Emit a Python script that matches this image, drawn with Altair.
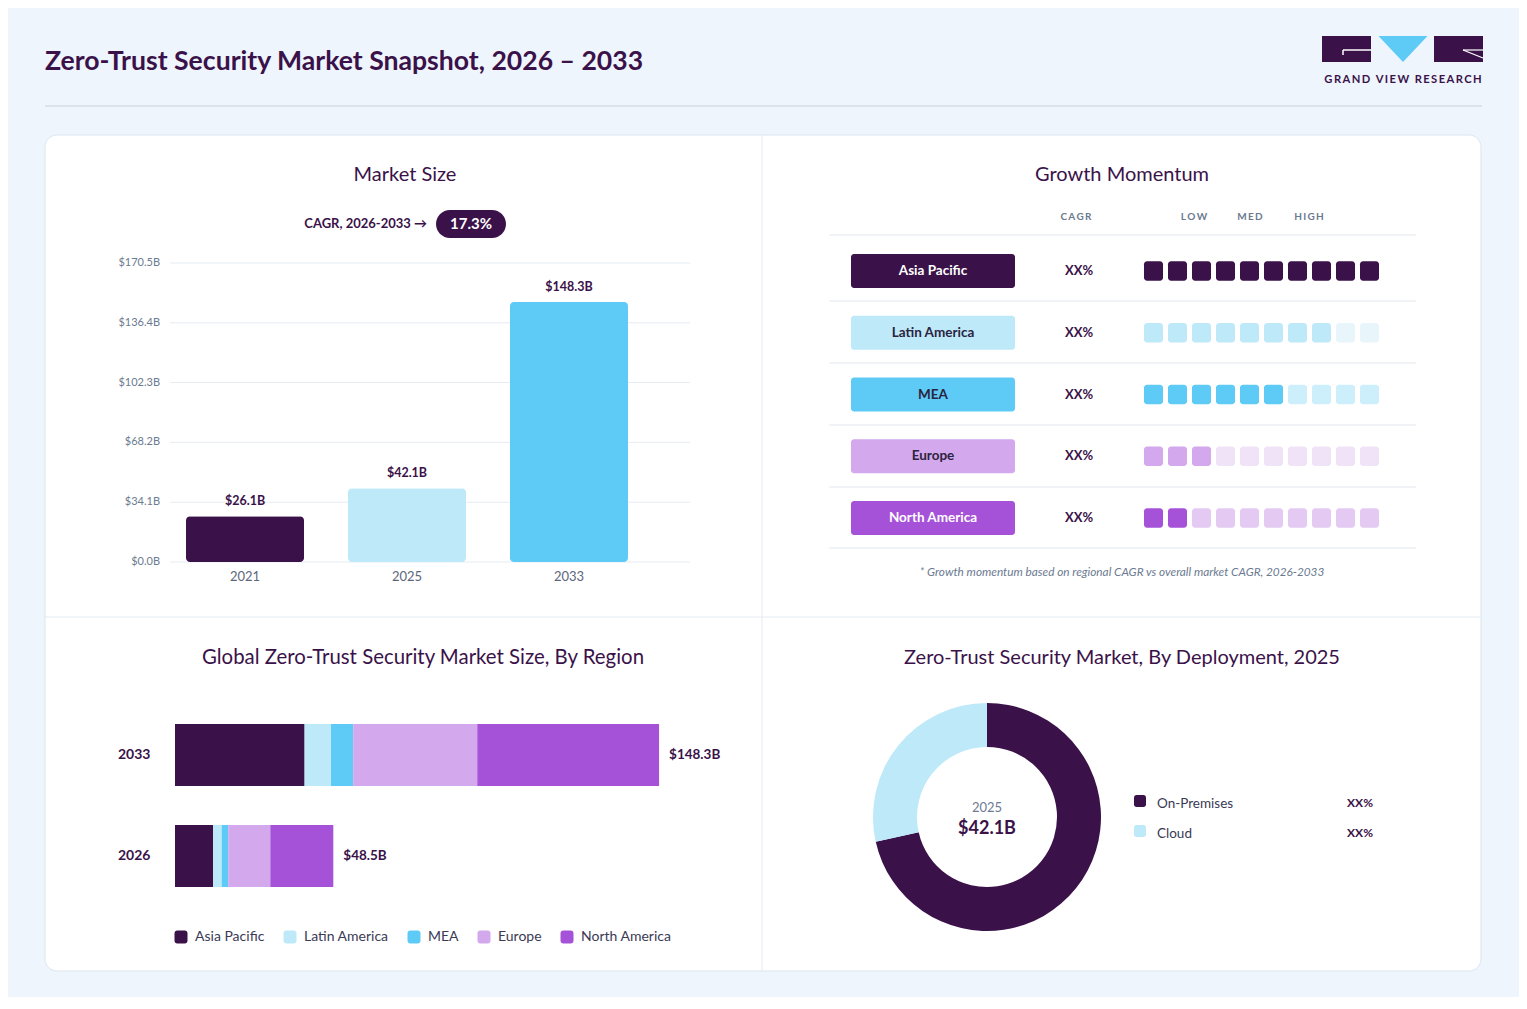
import altair as alt
import pandas as pd

# ---------------- data ----------------
title_text = "Zero-Trust Security Market Snapshot, 2026 – 2033"
brand_text = "GRAND VIEW RESEARCH"

ms_title = "Market Size"
ms_years = ["2021", "2025", "2033"]
ms_values = [26.1, 42.1, 148.3]
ms_labels = ["$26.1B", "$42.1B", "$148.3B"]
ms_colors = ["#3A1249", "#BDE9F9", "#5ECBF7"]
ms_ticks = [0.0, 34.1, 68.2, 102.3, 136.4, 170.5]
ms_tick_labels = ["$0.0B", "$34.1B", "$68.2B", "$102.3B", "$136.4B", "$170.5B"]
cagr_label = "CAGR, 2026-2033 →"
cagr_value = "17.3%"

gm_title = "Growth Momentum"
regions = ["Asia Pacific", "Latin America", "MEA", "Europe", "North America"]
region_colors = ["#3A1249", "#BDE9F9", "#5ECBF7", "#D4A8EC", "#A652D8"]
region_tints = ["#3A1249", "#E8F6FC", "#CDEFFC", "#F0E3F7", "#E4CAF2"]
region_text_colors = ["#FFFFFF", "#2B2340", "#2B2340", "#2B2340", "#FFFFFF"]
momentum_cagr = ["XX%", "XX%", "XX%", "XX%", "XX%"]
momentum_level = [10, 8, 6, 3, 2]
momentum_cells = 10
momentum_headers = ["CAGR", "LOW", "MED", "HIGH"]
momentum_note = "* Growth momentum based on regional CAGR vs overall market CAGR, 2026-2033"

st_title = "Global Zero-Trust Security Market Size, By Region"
stack_years = ["2033", "2026"]
stack_2033 = [39.7, 8.1, 6.8, 38.0, 55.7]
stack_2026 = [11.7, 2.6, 2.0, 12.9, 19.3]
stack_totals = [148.3, 48.5]
stack_total_labels = ["$148.3B", "$48.5B"]

dp_title = "Zero-Trust Security Market, By Deployment, 2025"
deploy_segments = ["On-Premises", "Cloud"]
deploy_shares = [71.5, 28.5]
deploy_share_labels = ["XX%", "XX%"]
deploy_colors = ["#3A1249", "#BDE9F9"]
deploy_year = "2025"
deploy_total = "$42.1B"

# ---------------- style ----------------
FONT = "Lato"
DARK = "#3A1249"
GREY = "#6B7A90"
BG = "#EEF5FD"
LINE = "#E4EAF1"
ROUNDSQ = "M -1 -0.55 Q -1 -1 -0.55 -1 L 0.55 -1 Q 1 -1 1 -0.55 L 1 0.55 Q 1 1 0.55 1 L -0.55 1 Q -1 1 -1 0.55 Z"

one = alt.Data(values=[{"k": 1}])


def spaced(s):
    return "\u2009".join(list(s))


def txt(s, x, y, size=13, color=DARK, weight="normal", align="center", baseline="middle", style="normal"):
    return alt.Chart(one).mark_text(
        font=FONT, fontSize=size, color=color, fontWeight=weight, align=align,
        baseline=baseline, fontStyle=style
    ).encode(x=alt.value(x), y=alt.value(y), text=alt.value(s))


def box(x, x2, y, y2, fill, radius=0, stroke=None, sw=0):
    kw = dict(fill=fill, cornerRadius=radius)
    if stroke:
        kw.update(stroke=stroke, strokeWidth=sw)
    return alt.Chart(one).mark_rect(**kw).encode(
        x=alt.value(x), x2=alt.value(x2), y=alt.value(y), y2=alt.value(y2))


def rule(x, y, x2, y2, color=LINE, sw=1):
    return alt.Chart(one).mark_rule(color=color, strokeWidth=sw).encode(
        x=alt.value(x), y=alt.value(y), x2=alt.value(x2), y2=alt.value(y2))


layers = []

# ---------------- frame ----------------
layers.append(txt(title_text, 37, 54, size=26.6, weight="bold", align="left"))
layers.append(rule(37, 98, 1474, 98, color="#DCE3EC", sw=2))
# logo
layers.append(box(1314, 1363, 28, 54, DARK))
layers.append(box(1426, 1475, 28, 54, DARK))
layers.append(alt.Chart(one).mark_point(
    shape="M -1 -0.53 L 1 -0.53 L 0 0.53 Z", size=2401, filled=True, fill="#5ECBF7", opacity=1, strokeWidth=0
).encode(x=alt.value(1395), y=alt.value(41)))
layers.append(rule(1335, 42, 1363, 42, color="white", sw=1.5))
layers.append(rule(1335, 42, 1335, 47, color="white", sw=1.5))
layers.append(rule(1455, 42, 1475, 42, color="white", sw=1.2))
layers.append(rule(1455, 42, 1475, 50, color="white", sw=1.2))
layers.append(txt(spaced(brand_text), 1395, 72, size=11.2, weight="bold", color=DARK))

# card
layers.append(box(37, 1473, 127, 963, "white", radius=12, stroke="#DCE5EF", sw=1))
layers.append(rule(754, 127, 754, 963))
layers.append(rule(37, 609, 1473, 609))

# ---------------- Market size ----------------
layers.append(txt(ms_title, 397, 167, size=20, color=DARK))
layers.append(txt(cagr_label, 419, 216, size=13, weight="bold", align="right"))
layers.append(box(428, 498, 202, 230, DARK, radius=14))
layers.append(txt(cagr_value, 463, 216, size=15, weight="bold", color="white"))

ms_df = pd.DataFrame({"year": ms_years, "value": ms_values, "label": ms_labels})
tick_df = pd.DataFrame({"tick": ms_ticks, "label": ms_tick_labels})
ms_y = alt.Scale(domain=[0, 170.5], range=[554, 255], nice=False, zero=True)
ms_x = alt.Scale(type="band", domain=ms_years, range=[162, 636], paddingInner=0.2716, paddingOuter=0.0988)

layers.append(alt.Chart(tick_df).mark_rule(color="#E6ECF3", strokeWidth=1).encode(
    y=alt.Y("tick:Q", scale=ms_y, axis=None), x=alt.value(162), x2=alt.value(682)))
layers.append(alt.Chart(tick_df).mark_text(font=FONT, fontSize=11, color=GREY, align="right", baseline="middle").encode(
    y=alt.Y("tick:Q", scale=ms_y, axis=None), x=alt.value(152), text="label:N"))
layers.append(alt.Chart(ms_df).mark_bar(cornerRadius=4).encode(
    x=alt.X("year:N", scale=ms_x, axis=None),
    y=alt.Y("value:Q", scale=ms_y, axis=None),
    color=alt.Color("year:N", scale=alt.Scale(domain=ms_years, range=ms_colors), legend=None)))
layers.append(alt.Chart(ms_df).mark_text(font=FONT, fontSize=12.5, fontWeight="bold", color=DARK, baseline="bottom", dy=-8).encode(
    x=alt.X("year:N", scale=ms_x, axis=None),
    y=alt.Y("value:Q", scale=ms_y, axis=None),
    text="label:N"))
layers.append(alt.Chart(ms_df).mark_text(font=FONT, fontSize=13, color="#5C667A", baseline="middle").encode(
    x=alt.X("year:N", scale=ms_x, axis=None), y=alt.value(569), text="year:N"))

# ---------------- Growth momentum ----------------
layers.append(txt(gm_title, 1114, 167, size=20, color=DARK))
for h, hx in zip(momentum_headers, [1068, 1186, 1242, 1301]):
    layers.append(txt(spaced(h), hx, 209, size=10, color=GREY, weight="bold"))
for ly in [227, 293, 355, 417, 479, 540]:
    layers.append(rule(821, ly, 1408, ly, color="#E3E8EF"))

row_df = pd.DataFrame({"region": regions, "i": list(range(len(regions))), "cagr": momentum_cagr})
row_y = alt.Scale(domain=[0, 4], range=[263, 510], nice=False, zero=False)
layers.append(alt.Chart(row_df).transform_calculate(y0="datum.i - 0.2753", y1="datum.i + 0.2753").mark_rect(cornerRadius=3).encode(
    x=alt.value(843), x2=alt.value(1007),
    y=alt.Y("y0:Q", scale=row_y, axis=None), y2="y1:Q",
    color=alt.Color("region:N", scale=alt.Scale(domain=regions, range=region_colors), legend=None)))
layers.append(alt.Chart(row_df).mark_text(font=FONT, fontSize=13.5, fontWeight="bold", baseline="middle").encode(
    x=alt.value(925), y=alt.Y("i:Q", scale=row_y, axis=None), text="region:N",
    color=alt.Color("region:N", scale=alt.Scale(domain=regions, range=region_text_colors), legend=None)))
layers.append(alt.Chart(row_df).mark_text(font=FONT, fontSize=13, fontWeight="bold", color=DARK, baseline="middle").encode(
    x=alt.value(1071), y=alt.Y("i:Q", scale=row_y, axis=None), text="cagr:N"))

cells = []
for i, (r, lvl) in enumerate(zip(regions, momentum_level)):
    for c in range(momentum_cells):
        cells.append({"region": r, "i": i, "c": c, "key": r + ("|on" if c < lvl else "|off")})
cell_df = pd.DataFrame(cells)
cell_keys = [r + "|on" for r in regions] + [r + "|off" for r in regions]
cell_cols = region_colors + region_tints
cell_x = alt.Scale(domain=[0, 9], range=[1145.5, 1361.5], nice=False, zero=False)
layers.append(alt.Chart(cell_df).transform_calculate(
    x0="datum.c - 0.396", x1="datum.c + 0.396", y0="datum.i - 0.158", y1="datum.i + 0.158"
).mark_rect(cornerRadius=3).encode(
    x=alt.X("x0:Q", scale=cell_x, axis=None), x2="x1:Q",
    y=alt.Y("y0:Q", scale=row_y, axis=None), y2="y1:Q",
    color=alt.Color("key:N", scale=alt.Scale(domain=cell_keys, range=cell_cols), legend=None)))
layers.append(txt(momentum_note, 1114, 564, size=11.8, color=GREY, style="italic"))

# ---------------- Stacked by region ----------------
layers.append(txt(st_title, 415, 650, size=20.4, color=DARK))
st_rows = []
for y, vals in zip(stack_years, [stack_2033, stack_2026]):
    for k, (r, v) in enumerate(zip(regions, vals)):
        st_rows.append({"year": y, "region": r, "value": v, "ord": k})
st_df = pd.DataFrame(st_rows)
tot_df = pd.DataFrame({"year": stack_years, "total": stack_totals, "label": stack_total_labels})
st_x = alt.Scale(domain=[0, 150], range=[167, 656.6], nice=False, zero=True)
st_y = alt.Scale(type="band", domain=stack_years, range=[716, 879], paddingInner=0.386, paddingOuter=0)
layers.append(alt.Chart(st_df).mark_bar().encode(
    x=alt.X("value:Q", stack="zero", scale=st_x, axis=None),
    y=alt.Y("year:N", scale=st_y, axis=None),
    order=alt.Order("ord:Q"),
    color=alt.Color("region:N", scale=alt.Scale(domain=regions, range=region_colors),
                    legend=alt.Legend(orient="none", legendX=166, legendY=922, direction="horizontal",
                                      title=None, symbolType=ROUNDSQ, symbolSize=169, symbolOpacity=1,
                                      symbolStrokeWidth=0, labelFont=FONT, labelFontSize=14,
                                      labelColor="#3A3A55", columnPadding=18, labelOffset=7))))
layers.append(alt.Chart(tot_df).mark_text(font=FONT, fontSize=13.5, fontWeight="bold", color=DARK, align="left", baseline="middle", dx=10).encode(
    x=alt.X("total:Q", scale=st_x, axis=None), y=alt.Y("year:N", scale=st_y, axis=None), text="label:N"))
layers.append(alt.Chart(tot_df).mark_text(font=FONT, fontSize=14, fontWeight="bold", color=DARK, align="left", baseline="middle").encode(
    x=alt.value(110), y=alt.Y("year:N", scale=st_y, axis=None), text="year:N"))

# ---------------- Donut ----------------
layers.append(txt(dp_title, 1114, 650, size=20, color=DARK))
dp_df = pd.DataFrame({"segment": deploy_segments, "share": deploy_shares, "label": deploy_share_labels,
                      "ord": list(range(len(deploy_segments)))})
dp_color = alt.Color("segment:N", scale=alt.Scale(domain=deploy_segments, range=deploy_colors), legend=None)
layers.append(alt.Chart(dp_df).mark_arc(innerRadius=70, outerRadius=114).encode(
    theta=alt.Theta("share:Q", stack=True), order=alt.Order("ord:Q"), color=dp_color,
    x=alt.value(979), y=alt.value(809)))
layers.append(txt(deploy_year, 979, 800, size=13, color=GREY))
layers.append(txt(deploy_total, 979, 821, size=18, weight="bold", color=DARK))
dp_y = alt.Scale(type="point", domain=deploy_segments, range=[793, 823], padding=0)
layers.append(alt.Chart(dp_df).mark_point(shape=ROUNDSQ, size=144, filled=True, opacity=1, strokeWidth=0).encode(
    x=alt.value(1132), y=alt.Y("segment:N", scale=dp_y, axis=None), color=dp_color))
layers.append(alt.Chart(dp_df).mark_text(font=FONT, fontSize=13.5, color="#3A3A55", align="left", baseline="middle", dy=3).encode(
    x=alt.value(1149), y=alt.Y("segment:N", scale=dp_y, axis=None), text="segment:N"))
layers.append(alt.Chart(dp_df).mark_text(font=FONT, fontSize=12, fontWeight="bold", color=DARK, align="right", baseline="middle", dy=2).encode(
    x=alt.value(1365), y=alt.Y("segment:N", scale=dp_y, axis=None), text="label:N"))

chart = alt.layer(*layers).resolve_scale(
    x="independent", y="independent", color="independent", theta="independent"
).properties(
    width=1511, height=989, autosize=alt.AutoSizeParams(type="none"), padding=0
).configure(background=BG).configure_view(stroke=None, fill=None)

chart.save("out.html", embed_options={"renderer": "svg", "actions": False})
